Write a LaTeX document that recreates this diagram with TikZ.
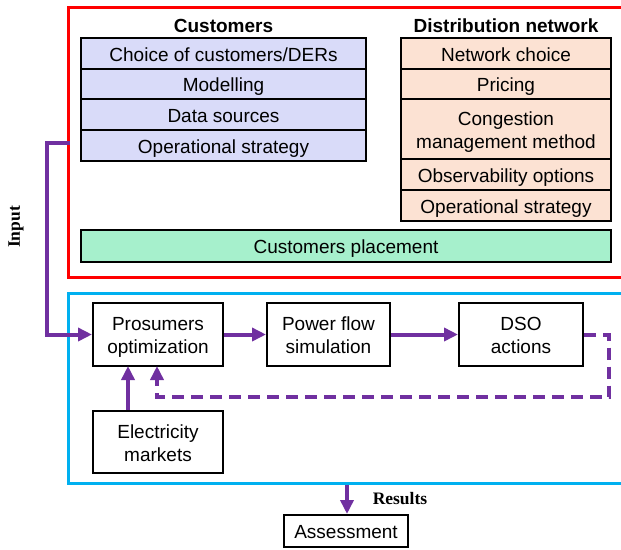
\documentclass[tikz,border=0pt]{standalone}
\usepackage{fontspec}
\setmainfont{Liberation Sans}
\newfontfamily\serifbold{Liberation Serif}[BoldFont={Liberation Serif Bold}]
\usetikzlibrary{arrows.meta}
\definecolor{frame red}{RGB}{255,0,0}
\definecolor{frame blue}{RGB}{0,176,240}
\definecolor{flow}{RGB}{112,48,160}
\definecolor{cust}{RGB}{217,219,249}
\definecolor{net}{RGB}{252,226,211}
\definecolor{place}{RGB}{166,240,204}
% centred cell text, set slightly low inside its box without changing the box size
\newcommand{\celltext}[1]{\raisebox{-3pt}[\height][\depth]{\begin{tabular}{@{}c@{}}#1\end{tabular}}}
\tikzset{
  cell/.style={draw=black, line width=2pt, inner sep=0pt, font=\fontsize{19}{23}\selectfont},
  custcell/.style={cell, fill=cust, minimum width=285pt},
  netcell/.style={cell, fill=net, minimum width=210pt},
  procbox/.style={cell, fill=white, minimum height=63pt},
  header/.style={font=\fontsize{19}{23}\selectfont\bfseries, inner sep=0pt},
  serlabel/.style={font=\fontsize{17.5}{20}\selectfont\serifbold\bfseries, inner sep=0pt},
  flowline/.style={draw=flow, line width=4pt},
  flowarrow/.style={flowline, -{Triangle[length=14pt,width=13pt]}},
  feedback/.style={flowarrow, dash pattern=on 12pt off 7pt}
}
\begin{document}
\begin{tikzpicture}[x=1pt, y=-1pt]
\useasboundingbox (0,0) rectangle (621,549);

% input stage frame (open to the right edge)
\draw[frame red, line width=3pt] (623,7) -- (68,7) -- (68,277) -- (623,277);
% simulation stage frame
\draw[frame blue, line width=3pt] (623,293) -- (68,293) -- (68,483) -- (623,483);

% customers table
\node[header] (custhead) at (223.5,25.5) {Customers};
\node[custcell, minimum height=31pt] (c1) at (223.5,53.5) {\celltext{Choice of customers/DERs}};
\node[custcell, minimum height=30pt] (c2) at (223.5,84) {\celltext{Modelling}};
\node[custcell, minimum height=31pt] (c3) at (223.5,114.5) {\celltext{Data sources}};
\node[custcell, minimum height=31pt] (c4) at (223.5,145.5) {\celltext{Operational strategy}};

% distribution network table
\node[header] (nethead) at (506,25.5) {Distribution network};
\node[netcell, minimum height=31pt] (n1) at (506,53.5) {\celltext{Network choice}};
\node[netcell, minimum height=30pt] (n2) at (506,84) {\celltext{Pricing}};
\node[netcell, minimum height=60pt] (n3) at (506,129) {\celltext{Congestion\\management method}};
\node[netcell, minimum height=31pt] (n4) at (506,174.5) {\celltext{Observability options}};
\node[netcell, minimum height=31pt] (n5) at (506,205.5) {\celltext{Operational strategy}};

% placement bar
\node[cell, fill=place, minimum width=530pt, minimum height=32pt] (placement) at (346,246) {\celltext{Customers placement}};

% simulation chain
\node[procbox, minimum width=130pt] (pros) at (158,334.5) {\celltext{Prosumers\\optimization}};
\node[procbox, minimum width=123pt] (pf) at (328.5,334.5) {\celltext{Power flow\\simulation}};
\node[procbox, minimum width=124pt] (dso) at (521,334.5) {\celltext{DSO\\actions}};
\node[procbox, minimum width=130pt, minimum height=62pt] (market) at (158,442) {\celltext{Electricity\\markets}};
\node[cell, fill=white, minimum width=124pt, minimum height=32pt] (assess) at (346,531) {\celltext{Assessment}};

% labels
\node[serlabel, rotate=90] (inputlbl) at (16,227) {Input};
\node[serlabel] (resultslbl) at (400,499) {Results};

% connectors
\coordinate (inputsrc) at (69.5,143);
\coordinate (resultsrc) at (347,484.5);
\draw[flowarrow] (inputsrc) -- (47,143) -- (47,334.5) -- (pros.west);
\draw[flowarrow] (pros.east) -- (pf.west);
\draw[flowarrow] (pf.east) -- (dso.west);
\draw[flowarrow] (market.north -| 128,0) -- (128,366);
\draw[feedback] (dso.east) -- (609,334.5) -- (609,397) -- (157,397) -- (157,366);
\draw[flowarrow] (resultsrc) -- (assess.north -| resultsrc);
\end{tikzpicture}
\end{document}
